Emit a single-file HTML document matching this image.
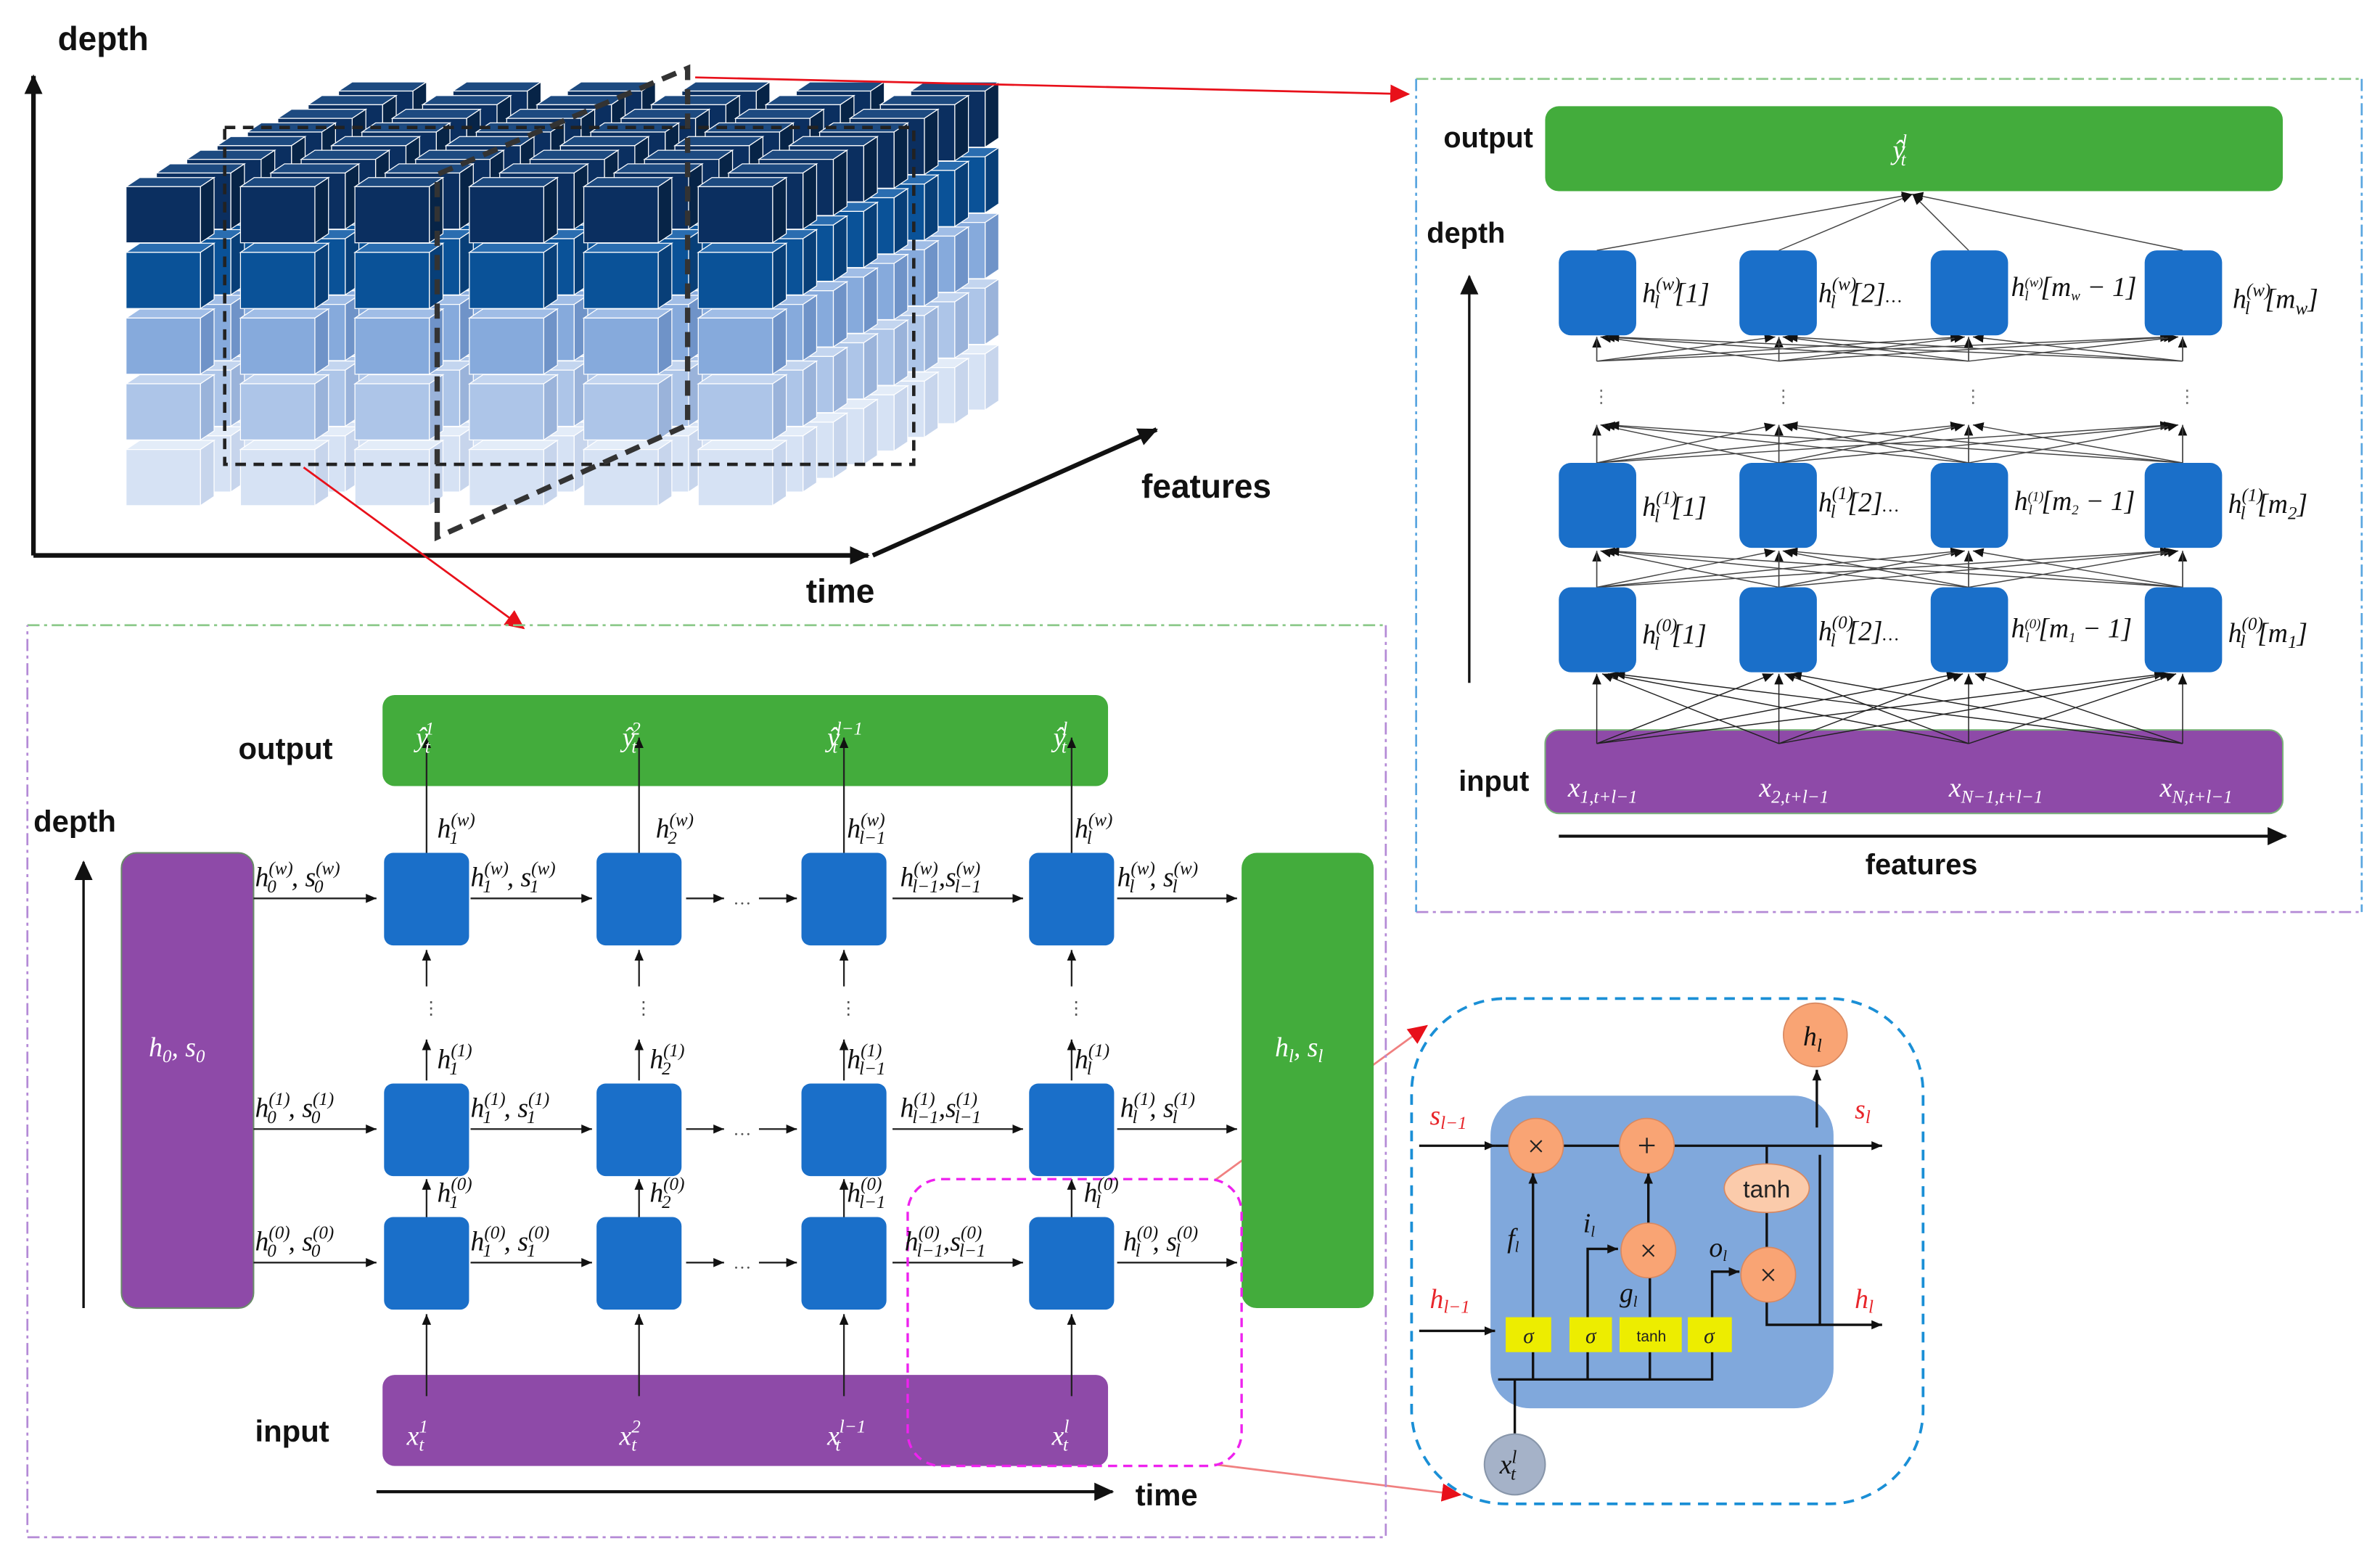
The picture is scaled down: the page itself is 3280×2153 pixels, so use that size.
<!DOCTYPE html>
<html><head><meta charset="utf-8"><style>
html,body{margin:0;padding:0;background:#fff}
svg{display:block}
.b{font-family:"Liberation Sans",Arial,sans-serif;font-weight:bold;fill:#111}
.m{font-family:"Liberation Serif",serif;font-style:italic;fill:#111;font-size:18px}
.w{fill:#fff}
.r{fill:#e8262b}
.s{font-size:12px}
</style></head><body>
<svg id="sv" width="3280" height="2153" viewBox="0 0 1568 1029.3" xmlns="http://www.w3.org/2000/svg">
<defs>
<marker id="a" markerWidth="8" markerHeight="8" refX="7" refY="4" orient="auto" markerUnits="userSpaceOnUse"><path d="M0,1 L7,4 L0,7z" fill="#111"/></marker>
<marker id="ab" markerWidth="14" markerHeight="12" refX="12" refY="6" orient="auto" markerUnits="userSpaceOnUse"><path d="M0,0 L13,6 L0,12z" fill="#111"/></marker>
<marker id="ar" markerWidth="14" markerHeight="12" refX="12" refY="6" orient="auto" markerUnits="userSpaceOnUse"><path d="M0,0 L13,6 L0,12z" fill="#e8101a"/></marker>
</defs>
<g id="cubes"></g>
<!-- dashed frames on cube -->
<g fill="none" stroke="#222" stroke-width="2.2" stroke-dasharray="7,5">
<rect x="148" y="84" width="454" height="222"/>
</g>
<g fill="none" stroke="#333" stroke-width="3.5" stroke-dasharray="10,6">
<path d="M288,354 L288,115 L453,45 L453,280 Z"/>
</g>
<!-- axes -->
<g stroke="#111" stroke-width="3" fill="none">
<line x1="22" y1="366" x2="22" y2="50" marker-end="url(#ab)"/>
<line x1="22" y1="366" x2="572" y2="366" marker-end="url(#ab)"/>
<line x1="575" y1="366" x2="762" y2="283" marker-end="url(#ab)"/>
</g>
<text class="b" x="38" y="33" font-size="22">depth</text>
<text class="b" x="531" y="397" font-size="22">time</text>
<text class="b" x="752" y="328" font-size="22">features</text>
<!-- red connectors -->
<g stroke="#e8101a" stroke-width="1.3" fill="none">
<line x1="458" y1="51" x2="928" y2="62" marker-end="url(#ar)"/>
<line x1="200" y1="308" x2="345" y2="414" marker-end="url(#ar)"/>
<line x1="800" y1="778" x2="940" y2="676" stroke="#f08080" marker-end="url(#ar)"/>
<line x1="800" y1="965" x2="962" y2="985" stroke="#f08080" marker-end="url(#ar)"/>
</g>

<!-- ========== bottom-left panel ========== -->
<path d="M18,412 H913" stroke="#8cc98a" stroke-width="1.3" stroke-dasharray="8,3,2,3" fill="none"/>
<path d="M913,412 V1013 H18 V412" stroke="#b48ad6" stroke-width="1.3" stroke-dasharray="8,3,2,3" fill="none"/>
<rect x="252" y="458" width="478" height="60" rx="8" fill="#43ac3c"/>
<rect x="80" y="562" width="87" height="300" rx="10" fill="#8e4aa8" stroke="#6a8a6a"/>
<rect x="818" y="562" width="87" height="300" rx="10" fill="#43ac3c"/>
<rect x="252" y="906" width="478" height="60" rx="8" fill="#8e4aa8"/>
<g fill="#1a6fc9">
<rect x="253" y="562" width="56" height="61" rx="6"/><rect x="393" y="562" width="56" height="61" rx="6"/><rect x="528" y="562" width="56" height="61" rx="6"/><rect x="678" y="562" width="56" height="61" rx="6"/>
<rect x="253" y="714" width="56" height="61" rx="6"/><rect x="393" y="714" width="56" height="61" rx="6"/><rect x="528" y="714" width="56" height="61" rx="6"/><rect x="678" y="714" width="56" height="61" rx="6"/>
<rect x="253" y="802" width="56" height="61" rx="6"/><rect x="393" y="802" width="56" height="61" rx="6"/><rect x="528" y="802" width="56" height="61" rx="6"/><rect x="678" y="802" width="56" height="61" rx="6"/>
</g>
<g stroke="#222" stroke-width="1.1" fill="none" marker-end="url(#a)">
<path d="M167,592H248"/><path d="M310,592H390"/><path d="M452,592H477"/><path d="M500,592H525"/><path d="M588,592H674"/><path d="M736,592H815"/>
<path d="M167,744H248"/><path d="M310,744H390"/><path d="M452,744H477"/><path d="M500,744H525"/><path d="M588,744H674"/><path d="M736,744H815"/>
<path d="M167,832H248"/><path d="M310,832H390"/><path d="M452,832H477"/><path d="M500,832H525"/><path d="M588,832H674"/><path d="M736,832H815"/>
<path d="M281,920V866"/><path d="M421,920V866"/><path d="M556,920V866"/><path d="M706,920V866"/>
<path d="M281,802V777"/><path d="M421,802V777"/><path d="M556,802V777"/><path d="M706,802V777"/>
<path d="M281,712V685"/><path d="M421,712V685"/><path d="M556,712V685"/><path d="M706,712V685"/>
<path d="M281,650V626"/><path d="M421,650V626"/><path d="M556,650V626"/><path d="M706,650V626"/>
<path d="M281,562V486"/><path d="M421,562V486"/><path d="M556,562V486"/><path d="M706,562V486"/>
</g>
<g font-family="Liberation Serif" font-size="12" fill="#555"><text x="483" y="596">…</text><text x="483" y="748">…</text><text x="483" y="836">…</text>
<text x="278" y="668">⋮</text><text x="418" y="668">⋮</text><text x="553" y="668">⋮</text><text x="703" y="668">⋮</text></g>
<path d="M55,862V568" stroke="#111" stroke-width="1.6" marker-end="url(#ab)"/>
<path d="M248,983H733" stroke="#111" stroke-width="2" marker-end="url(#ab)"/>
<text class="b" x="157" y="500" font-size="20">output</text>
<text class="b" x="22" y="548" font-size="20">depth</text>
<text class="b" x="168" y="950" font-size="20">input</text>
<text class="b" x="748" y="992" font-size="20">time</text>
<rect x="598" y="777" width="220" height="189" rx="22" fill="none" stroke="#ee22ee" stroke-width="1.6" stroke-dasharray="6,4"/>
<!-- output labels -->
<g class="m w" font-size="19">
<text x="274" y="492" class="m w">ŷ<tspan class="s" dx="-2" dy="-8">1</tspan><tspan class="s" dx="-6" dy="12">t</tspan></text>
<text x="410" y="492" class="m w">ŷ<tspan class="s" dx="-2" dy="-8">2</tspan><tspan class="s" dx="-6" dy="12">t</tspan></text>
<text x="545" y="492" class="m w">ŷ<tspan class="s" dx="-2" dy="-8">l−1</tspan><tspan class="s" dx="-20" dy="12">t</tspan></text>
<text x="694" y="492" class="m w">ŷ<tspan class="s" dx="-2" dy="-8">l</tspan><tspan class="s" dx="-4" dy="12">t</tspan></text>
<text x="268" y="952" class="m w">x<tspan class="s" dy="-8">1</tspan><tspan class="s" dx="-6" dy="12">t</tspan></text>
<text x="408" y="952" class="m w">x<tspan class="s" dy="-8">2</tspan><tspan class="s" dx="-6" dy="12">t</tspan></text>
<text x="545" y="952" class="m w">x<tspan class="s" dy="-8">l−1</tspan><tspan class="s" dx="-20" dy="12">t</tspan></text>
<text x="693" y="952" class="m w">x<tspan class="s" dy="-8">l</tspan><tspan class="s" dx="-4" dy="12">t</tspan></text>
<text x="98" y="696" class="m w">h<tspan class="s" dy="4">0</tspan><tspan dy="-4">, s</tspan><tspan class="s" dy="4">0</tspan></text>
<text x="840" y="696" class="m w">h<tspan class="s" dy="4">l</tspan><tspan dy="-4">, s</tspan><tspan class="s" dy="4">l</tspan></text>
</g>
<!-- row labels -->
<g class="m">
<text x="168" y="584" class="m">h<tspan class="s" dy="-8">(w)</tspan><tspan class="s" dx="-17" dy="12">0</tspan><tspan dx="10" dy="-4">, s</tspan><tspan class="s" dy="-8">(w)</tspan><tspan class="s" dx="-17" dy="12">0</tspan></text>
<text x="310" y="584" class="m">h<tspan class="s" dy="-8">(w)</tspan><tspan class="s" dx="-17" dy="12">1</tspan><tspan dx="10" dy="-4">, s</tspan><tspan class="s" dy="-8">(w)</tspan><tspan class="s" dx="-17" dy="12">1</tspan></text>
<text x="593" y="584" class="m">h<tspan class="s" dy="-8">(w)</tspan><tspan class="s" dx="-17" dy="12">l−1</tspan><tspan dy="-4">,s</tspan><tspan class="s" dy="-8">(w)</tspan><tspan class="s" dx="-17" dy="12">l−1</tspan></text>
<text x="736" y="584" class="m">h<tspan class="s" dy="-8">(w)</tspan><tspan class="s" dx="-17" dy="12">l</tspan><tspan dx="10" dy="-4">, s</tspan><tspan class="s" dy="-8">(w)</tspan><tspan class="s" dx="-17" dy="12">l</tspan></text>

<text x="168" y="736" class="m">h<tspan class="s" dy="-8">(1)</tspan><tspan class="s" dx="-15" dy="12">0</tspan><tspan dx="8" dy="-4">, s</tspan><tspan class="s" dy="-8">(1)</tspan><tspan class="s" dx="-15" dy="12">0</tspan></text>
<text x="310" y="736" class="m">h<tspan class="s" dy="-8">(1)</tspan><tspan class="s" dx="-15" dy="12">1</tspan><tspan dx="8" dy="-4">, s</tspan><tspan class="s" dy="-8">(1)</tspan><tspan class="s" dx="-15" dy="12">1</tspan></text>
<text x="593" y="736" class="m">h<tspan class="s" dy="-8">(1)</tspan><tspan class="s" dx="-15" dy="12">l−1</tspan><tspan dy="-4">,s</tspan><tspan class="s" dy="-8">(1)</tspan><tspan class="s" dx="-15" dy="12">l−1</tspan></text>
<text x="738" y="736" class="m">h<tspan class="s" dy="-8">(1)</tspan><tspan class="s" dx="-15" dy="12">l</tspan><tspan dx="8" dy="-4">, s</tspan><tspan class="s" dy="-8">(1)</tspan><tspan class="s" dx="-15" dy="12">l</tspan></text>

<text x="168" y="824" class="m">h<tspan class="s" dy="-8">(0)</tspan><tspan class="s" dx="-15" dy="12">0</tspan><tspan dx="8" dy="-4">, s</tspan><tspan class="s" dy="-8">(0)</tspan><tspan class="s" dx="-15" dy="12">0</tspan></text>
<text x="310" y="824" class="m">h<tspan class="s" dy="-8">(0)</tspan><tspan class="s" dx="-15" dy="12">1</tspan><tspan dx="8" dy="-4">, s</tspan><tspan class="s" dy="-8">(0)</tspan><tspan class="s" dx="-15" dy="12">1</tspan></text>
<text x="596" y="824" class="m">h<tspan class="s" dy="-8">(0)</tspan><tspan class="s" dx="-15" dy="12">l−1</tspan><tspan dy="-4">,s</tspan><tspan class="s" dy="-8">(0)</tspan><tspan class="s" dx="-15" dy="12">l−1</tspan></text>
<text x="740" y="824" class="m">h<tspan class="s" dy="-8">(0)</tspan><tspan class="s" dx="-15" dy="12">l</tspan><tspan dx="8" dy="-4">, s</tspan><tspan class="s" dy="-8">(0)</tspan><tspan class="s" dx="-15" dy="12">l</tspan></text>

<text x="288" y="552" class="m">h<tspan class="s" dy="-8">(w)</tspan><tspan class="s" dx="-17" dy="12">1</tspan></text>
<text x="432" y="552" class="m">h<tspan class="s" dy="-8">(w)</tspan><tspan class="s" dx="-17" dy="12">2</tspan></text>
<text x="558" y="552" class="m">h<tspan class="s" dy="-8">(w)</tspan><tspan class="s" dx="-17" dy="12">l−1</tspan></text>
<text x="708" y="552" class="m">h<tspan class="s" dy="-8">(w)</tspan><tspan class="s" dx="-17" dy="12">l</tspan></text>
<text x="288" y="704" class="m">h<tspan class="s" dy="-8">(1)</tspan><tspan class="s" dx="-15" dy="12">1</tspan></text>
<text x="428" y="704" class="m">h<tspan class="s" dy="-8">(1)</tspan><tspan class="s" dx="-15" dy="12">2</tspan></text>
<text x="558" y="704" class="m">h<tspan class="s" dy="-8">(1)</tspan><tspan class="s" dx="-15" dy="12">l−1</tspan></text>
<text x="708" y="704" class="m">h<tspan class="s" dy="-8">(1)</tspan><tspan class="s" dx="-15" dy="12">l</tspan></text>
<text x="288" y="792" class="m">h<tspan class="s" dy="-8">(0)</tspan><tspan class="s" dx="-15" dy="12">1</tspan></text>
<text x="428" y="792" class="m">h<tspan class="s" dy="-8">(0)</tspan><tspan class="s" dx="-15" dy="12">2</tspan></text>
<text x="558" y="792" class="m">h<tspan class="s" dy="-8">(0)</tspan><tspan class="s" dx="-15" dy="12">l−1</tspan></text>
<text x="714" y="792" class="m">h<tspan class="s" dy="-8">(0)</tspan><tspan class="s" dx="-15" dy="12">l</tspan></text>
</g>

<!-- ========== top-right panel ========== -->
<path d="M933,52 H1556" stroke="#8cc98a" stroke-width="1.3" stroke-dasharray="8,3,2,3" fill="none"/>
<path d="M933,601 H1556" stroke="#b48ad6" stroke-width="1.3" stroke-dasharray="8,3,2,3" fill="none"/>
<path d="M933,52 V601 M1556,52 V601" stroke="#5aa6e0" stroke-width="1.3" stroke-dasharray="8,3,2,3" fill="none"/>
<rect x="1018" y="70" width="486" height="56" rx="9" fill="#43ac3c"/>
<rect x="1018" y="481" width="486" height="55" rx="9" fill="#8e4aa8" stroke="#7ab07a"/>
<g id="fan" stroke="#444" stroke-width="0.7" fill="none"></g>
<g fill="#1a6fc9">
<rect x="1027" y="165" width="51" height="56" rx="8"/><rect x="1146" y="165" width="51" height="56" rx="8"/><rect x="1272" y="165" width="51" height="56" rx="8"/><rect x="1413" y="165" width="51" height="56" rx="8"/>
<rect x="1027" y="305" width="51" height="56" rx="8"/><rect x="1146" y="305" width="51" height="56" rx="8"/><rect x="1272" y="305" width="51" height="56" rx="8"/><rect x="1413" y="305" width="51" height="56" rx="8"/>
<rect x="1027" y="387" width="51" height="56" rx="8"/><rect x="1146" y="387" width="51" height="56" rx="8"/><rect x="1272" y="387" width="51" height="56" rx="8"/><rect x="1413" y="387" width="51" height="56" rx="8"/>
</g>
<g font-family="Liberation Serif" font-size="12" fill="#777"><text x="1049" y="265">⋮</text><text x="1169" y="265">⋮</text><text x="1294" y="265">⋮</text><text x="1435" y="265">⋮</text></g>
<path d="M968,450V182" stroke="#111" stroke-width="1.6" marker-end="url(#ab)"/>
<path d="M1027,551H1506" stroke="#111" stroke-width="2" marker-end="url(#ab)"/>
<text class="b" x="951" y="97" font-size="19">output</text>
<text class="b" x="940" y="160" font-size="19">depth</text>
<text class="b" x="961" y="521" font-size="19">input</text>
<text class="b" x="1229" y="576" font-size="19">features</text>
<text x="1247" y="105" class="m w">ŷ<tspan class="s" dx="-2" dy="-8">l</tspan><tspan class="s" dx="-4" dy="12">t</tspan></text>
<g class="m w">
<text x="1033" y="525" class="m w">x<tspan class="s" dy="4">1,t+l−1</tspan></text>
<text x="1159" y="525" class="m w">x<tspan class="s" dy="4">2,t+l−1</tspan></text>
<text x="1284" y="525" class="m w">x<tspan class="s" dy="4">N−1,t+l−1</tspan></text>
<text x="1423" y="525" class="m w">x<tspan class="s" dy="4">N,t+l−1</tspan></text>
</g>
<g class="m">
<text x="1082" y="199" class="m">h<tspan class="s" dy="-8">(w)</tspan><tspan class="s" dx="-17" dy="12">l</tspan><tspan dx="10" dy="-4">[1]</tspan></text>
<text x="1198" y="199" class="m">h<tspan class="s" dy="-8">(w)</tspan><tspan class="s" dx="-17" dy="12">l</tspan><tspan dx="10" dy="-4">[2]</tspan><tspan class="s">…</tspan></text>
<text x="1325" y="195" class="m" font-size="13">h<tspan font-size="9" dy="-6">(w)</tspan><tspan font-size="9" dx="-12" dy="9">l</tspan><tspan dx="8" dy="-3">[m</tspan><tspan font-size="9" dy="3">w</tspan><tspan dy="-3"> − 1]</tspan></text>
<text x="1471" y="203" class="m">h<tspan class="s" dy="-8">(w)</tspan><tspan class="s" dx="-17" dy="12">l</tspan><tspan dx="10" dy="-4">[m</tspan><tspan class="s" dy="4">w</tspan><tspan dy="-4">]</tspan></text>

<text x="1082" y="340" class="m">h<tspan class="s" dy="-8">(1)</tspan><tspan class="s" dx="-15" dy="12">l</tspan><tspan dx="8" dy="-4">[1]</tspan></text>
<text x="1198" y="337" class="m">h<tspan class="s" dy="-8">(1)</tspan><tspan class="s" dx="-15" dy="12">l</tspan><tspan dx="8" dy="-4">[2]</tspan><tspan class="s">…</tspan></text>
<text x="1327" y="336" class="m" font-size="13">h<tspan font-size="9" dy="-6">(1)</tspan><tspan font-size="9" dx="-10" dy="9">l</tspan><tspan dx="6" dy="-3">[m</tspan><tspan font-size="9" dy="3">2</tspan><tspan dy="-3"> − 1]</tspan></text>
<text x="1468" y="338" class="m">h<tspan class="s" dy="-8">(1)</tspan><tspan class="s" dx="-15" dy="12">l</tspan><tspan dx="8" dy="-4">[m</tspan><tspan class="s" dy="4">2</tspan><tspan dy="-4">]</tspan></text>

<text x="1082" y="424" class="m">h<tspan class="s" dy="-8">(0)</tspan><tspan class="s" dx="-15" dy="12">l</tspan><tspan dx="8" dy="-4">[1]</tspan></text>
<text x="1198" y="422" class="m">h<tspan class="s" dy="-8">(0)</tspan><tspan class="s" dx="-15" dy="12">l</tspan><tspan dx="8" dy="-4">[2]</tspan><tspan class="s">…</tspan></text>
<text x="1325" y="420" class="m" font-size="13">h<tspan font-size="9" dy="-6">(0)</tspan><tspan font-size="9" dx="-10" dy="9">l</tspan><tspan dx="6" dy="-3">[m</tspan><tspan font-size="9" dy="3">1</tspan><tspan dy="-3"> − 1]</tspan></text>
<text x="1468" y="423" class="m">h<tspan class="s" dy="-8">(0)</tspan><tspan class="s" dx="-15" dy="12">l</tspan><tspan dx="8" dy="-4">[m</tspan><tspan class="s" dy="4">1</tspan><tspan dy="-4">]</tspan></text>
</g>

<!-- ========== LSTM panel ========== -->
<rect x="930" y="658" width="337" height="333" rx="62" fill="none" stroke="#1a8fd6" stroke-width="1.8" stroke-dasharray="7,5"/>
<rect x="982" y="722" width="226" height="206" rx="26" fill="#80a8dc"/>
<g stroke="#111" stroke-width="1.6" fill="none">
<path d="M935,755H985" marker-end="url(#a)"/>
<path d="M985,755H1240" marker-end="url(#a)"/>
<path d="M935,877H985" marker-end="url(#a)"/>
<path d="M987,909H1128V891"/>
<path d="M998,909V945"/>
<path d="M1010,909V891 M1046,909V891 M1087,909V891"/>
<path d="M1010,868V773" marker-end="url(#a)"/>
<path d="M1046,868V823H1066" marker-end="url(#a)"/>
<path d="M1087,868V842"/>
<path d="M1086,806V773" marker-end="url(#a)"/>
<path d="M1128,868V838H1146" marker-end="url(#a)"/>
<path d="M1164,755V767 M1164,799V822"/>
<path d="M1164,858V873H1240" marker-end="url(#a)"/>
<path d="M1199,873V761"/>
<path d="M1197,743V705" marker-end="url(#a)"/>
</g>
<g fill="#f9a474" stroke="#d88860" stroke-width="0.8">
<circle cx="1012" cy="755" r="18"/><circle cx="1085" cy="755" r="18"/><circle cx="1086" cy="824" r="18"/><circle cx="1165" cy="840" r="18"/>
<circle cx="1196" cy="682" r="21"/>
<ellipse cx="1164" cy="783" rx="28" ry="16" fill="#fbcbab"/>
</g>
<circle cx="998" cy="965" r="20" fill="#a5b2c8" stroke="#8896aa"/>
<g fill="#eded00"><rect x="992" y="868" width="30" height="23"/><rect x="1034" y="868" width="28" height="23"/><rect x="1067" y="868" width="41" height="23"/><rect x="1112" y="868" width="29" height="23"/></g>
<g font-family="Liberation Serif" fill="#222" text-anchor="middle">
<text x="1012" y="762" font-size="20">×</text><text x="1085" y="762" font-size="22">+</text><text x="1086" y="831" font-size="20">×</text><text x="1165" y="847" font-size="20">×</text>
<text x="1164" y="789" font-size="16" font-family="Liberation Sans">tanh</text>
<text x="1007" y="885" font-size="14" font-style="italic">σ</text><text x="1048" y="885" font-size="14" font-style="italic">σ</text><text x="1126" y="885" font-size="14" font-style="italic">σ</text>
<text x="1088" y="884" font-size="10" font-family="Liberation Sans">tanh</text>
</g>
<text x="1188" y="689" class="m" font-size="18">h<tspan class="s" dy="4">l</tspan></text>
<text x="988" y="971" class="m" font-size="17">x<tspan class="s" dy="-7">l</tspan><tspan class="s" dx="-4" dy="11">t</tspan></text>
<g class="m" font-size="15">
<text x="993" y="822" class="m" font-size="15">f<tspan font-size="10" dy="3">l</tspan></text>
<text x="1043" y="812" class="m" font-size="15">i<tspan font-size="10" dy="3">l</tspan></text>
<text x="1067" y="858" class="m" font-size="15">g<tspan font-size="10" dy="3">l</tspan></text>
<text x="1126" y="828" class="m" font-size="15">o<tspan font-size="10" dy="3">l</tspan></text>
</g>
<g class="m r" font-size="17">
<text x="942" y="741" class="m r">s<tspan class="s" dy="3">l−1</tspan></text>
<text x="942" y="862" class="m r">h<tspan class="s" dy="3">l−1</tspan></text>
<text x="1222" y="737" class="m r">s<tspan class="s" dy="3">l</tspan></text>
<text x="1222" y="862" class="m r">h<tspan class="s" dy="3">l</tspan></text>
</g>
</svg>
<script>
var NS="http://www.w3.org/2000/svg";
function el(p,t,a){var e=document.createElementNS(NS,t);for(var k in a)e.setAttribute(k,a[k]);p.appendChild(e);return e;}
var g=document.getElementById("cubes");
var cols=[["#0b2f60","#1d4a80","#072447"],["#0a5298","#2a6db0","#083f78"],["#86aadc","#a0bde6","#6f93c8"],["#adc5e8","#c3d5ef","#9ab3da"],["#d6e2f4","#e3ecf8","#c7d5ec"]];
for(var k=7;k>=0;k--){for(var r=0;r<5;r++){for(var c=0;c<6;c++){
 var x=83+c*75.4+k*20, y=123+r*43.3-k*9, w=49, h=37, dx=9, dy=-6;
 var C=cols[r];
 el(g,"polygon",{points:[x,y,x+dx,y+dy,x+w+dx,y+dy,x+w,y].join(","),fill:C[1],stroke:"#fff","stroke-width":0.6});
 el(g,"polygon",{points:[x+w,y,x+w+dx,y+dy,x+w+dx,y+h+dy,x+w,y+h].join(","),fill:C[2],stroke:"#fff","stroke-width":0.6});
 el(g,"rect",{x:x,y:y,width:w,height:h,fill:C[0],stroke:"#fff","stroke-width":0.6});
}}}
var f=document.getElementById("fan");
var X=[1052,1172,1297,1438];
X.forEach(function(x){el(f,"line",{x1:x,y1:165,x2:1260,y2:128,"marker-end":"url(#a)"});});
function cross(yb,yt){X.forEach(function(a){X.forEach(function(b){el(f,"line",{x1:a,y1:yb,x2:b+(a-b)*0.02,y2:yt,"marker-end":"url(#a)"});});});}
cross(238,222);cross(305,280);cross(387,363);
X.forEach(function(x){[[238,222],[305,280],[387,363]].forEach(function(p){el(f,"line",{x1:x,y1:p[0],x2:x,y2:p[1]});});});
X.forEach(function(a){X.forEach(function(b){el(f,"line",{x1:a,y1:490,x2:b+(a-b)*0.03,y2:444,"marker-end":"url(#a)",stroke:"#222"});});});
</script>
</body></html>
